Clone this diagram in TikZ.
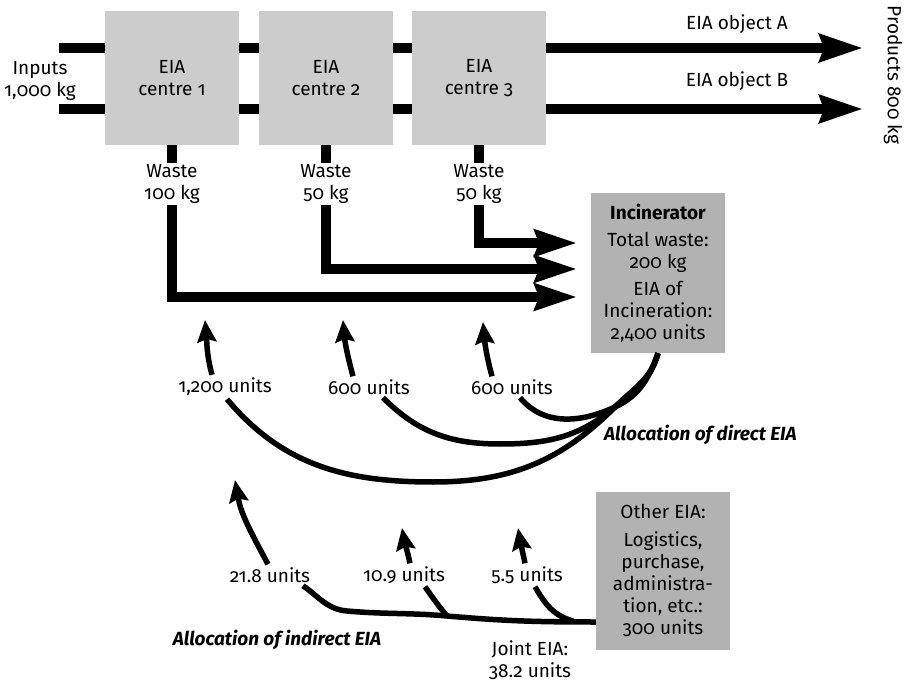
\documentclass[tikz,border=0pt]{standalone}
\usepackage{fontspec}
\setmainfont{Fira Sans}[Numbers=OldStyle]
\usetikzlibrary{arrows.meta,positioning}

\begin{document}
\begin{tikzpicture}[
        x=1pt, y=-1pt,
    every node/.style={font=\fontsize{19}{22}\selectfont, align=center, inner sep=2pt},
    centre/.style={fill=cgr, minimum width=134pt, minimum height=134pt},
    store/.style={fill=dgr, minimum width=134pt},
    unitlabel/.style={inner sep=3pt},
    flow/.style={line width=10pt},
    bigarrow/.style={flow, -{Stealth[length=43pt,width=27pt,inset=4pt]}},
    waste/.style={line width=10pt, -{Stealth[length=42pt,width=26pt,inset=4pt]}},
    share/.style={line width=5.5pt},
    sharearrow/.style={line width=5.5pt, -{Stealth[length=22pt,width=19pt,inset=3pt]}},
    heading/.style={font=\fontsize{19}{22}\selectfont\bfseries\itshape}
]
    \colorlet{cgr}{black!20}
    \colorlet{dgr}{black!30}

    \useasboundingbox (0,0) rectangle (911,687);

    \node[centre] (c1) at (172,78) {EIA\\centre 1};
    \node[centre] (c2) at (326,78) {EIA\\centre 2};
    \node[centre] (c3) at (479,78) {EIA\\centre 3};
    \node (inp) at (40,81) {Inputs\\1,000 kg};

    \coordinate (inA) at (59,48);
    \coordinate (inB) at (59,109);
    \coordinate (outA) at (863,48);
    \coordinate (outB) at (863,109);

    \foreach \r in {inA,inB} {
        \draw [flow] (\r) -- (c1.west |- \r);
        \draw [flow] (c1.east |- \r) -- (c2.west |- \r);
        \draw [flow] (c2.east |- \r) -- (c3.west |- \r);
    }
    \draw [bigarrow] (c3.east |- outA) -- (outA);
    \draw [bigarrow] (c3.east |- outB) -- (outB);

    \node (objA) at (737,24) {EIA object A};
    \node (objB) at (737,81) {EIA object B};
    \node[rotate=-90] (prod) at (893,75) {Products 800 kg};

    \node[store, minimum height=160pt] (inc) at (658,273)
        {\textbf{Incinerator}\\[5pt]Total waste:\\200 kg\\[5pt]EIA of\\Incineration:\\2,400 units};

    \node[inner sep=1pt] (w1) at (172,184) {Waste\\100 kg};
    \node[inner sep=1pt] (w2) at (326,184) {Waste\\50 kg};
    \node[inner sep=1pt] (w3) at (479,184) {Waste\\50 kg};

    \coordinate (t1) at (577,297);
    \coordinate (t2) at (577,269);
    \coordinate (t3) at (577,243);

    \draw [flow] (c1.south) -- (w1.north);
    \draw [flow] (c2.south) -- (w2.north);
    \draw [flow] (c3.south) -- (w3.north);
    \draw [waste] (w1.south) |- (t1);
    \draw [waste] (w2.south) |- (t2);
    \draw [waste] (w3.south) |- (t3);

    \node[unitlabel] (l1) at (225,387) {1,200 units};
    \node[unitlabel] (l2) at (369,387) {600 units};
    \node[unitlabel] (l3) at (512,387) {600 units};

    \coordinate (M) at (615,407);
    \coordinate (a1) at (205,320);
    \coordinate (a2) at (343,320);
    \coordinate (a3) at (483,322);

    \draw [share] ([xshift=2pt]l1.south)
        to [out=-50,in=180] (433,482)
        to [out=0,in=-135] (M)
        to [out=45,in=-105] (inc.south)
    ;
    \draw [share] ([xshift=14pt]l2.south)
        to [out=-45,in=180] (500,444)
        to [out=0,in=-140] (M)
        to [out=40,in=-105] (inc.south)
    ;
    \draw [share] ([xshift=8pt]l3.south)
        to [out=-50,in=-155] (M)
        to [out=25,in=-110] (inc.south)
    ;
    \draw [sharearrow] ([xshift=-13pt]l1.north) to [out=105,in=-85] (a1);
    \draw [sharearrow] ([xshift=-16pt]l2.north) to [out=105,in=-85] (a2);
    \draw [sharearrow] ([xshift=-20pt]l3.north) to [out=105,in=-85] (a3);

    \node[heading, anchor=west] (dir) at (602,435) {Allocation of direct EIA};

    \node[store, minimum height=158pt] (oth) at (663,571)
        {Other EIA:\\[6pt]Logistics,\\purchase,\\administra-\\tion, etc.:\\300 units};

    \node[unitlabel] (l21) at (270,575) {21.8 units};
    \node[unitlabel] (l10) at (404,575) {10.9 units};
    \node[unitlabel] (l5) at (527,575) {5.5 units};

    \coordinate (j0) at (oth.west |- 0,622);
    \coordinate (j1) at (447,616);
    \coordinate (j2) at (573,621);
    \coordinate (b1) at (235,480);
    \coordinate (b2) at (402,528);
    \coordinate (b3) at (518,528);

    \draw [share] (j0)
        to [out=180,in=-5] (j1)
        to [out=175,in=-5] (347,611)
        to [out=175,in=-35] ([xshift=33pt]l21.south)
    ;
    \draw [share] (j1) to [out=130,in=-55] ([xshift=21pt]l10.south);
    \draw [share] (j2) to [out=165,in=-60] ([xshift=8pt]l5.south);
    \draw [sharearrow] ([xshift=-2pt]l21.north) to [out=118,in=-80] (b1);
    \draw [sharearrow] ([xshift=6pt]l10.north) to [out=102,in=-80] (b2);
    \draw [sharearrow] ([xshift=-2pt]l5.north) to [out=102,in=-80] (b3);

    \node[heading] (ind) at (277,640) {Allocation of indirect EIA};
    \node (joint) at (530,660) {Joint EIA:\\38.2 units};
\end{tikzpicture}
\end{document}
